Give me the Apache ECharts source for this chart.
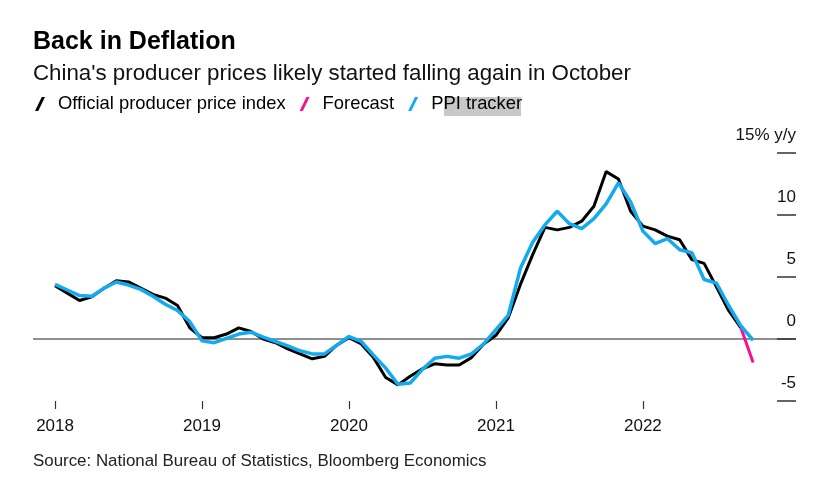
<!DOCTYPE html>
<html>
<head>
<meta charset="utf-8">
<script src="https://cdn.jsdelivr.net/npm/echarts@6/dist/echarts.min.js"></script>
<style>
html,body{margin:0;padding:0;background:#fff;}
#chart{width:837px;height:479px;}
</style>
</head>
<body>
<div id="chart"></div>
<script>
// Months (x categories), Jan 2018 .. Oct 2022
var months = [
 '2018-01','2018-02','2018-03','2018-04','2018-05','2018-06','2018-07','2018-08','2018-09','2018-10','2018-11','2018-12',
 '2019-01','2019-02','2019-03','2019-04','2019-05','2019-06','2019-07','2019-08','2019-09','2019-10','2019-11','2019-12',
 '2020-01','2020-02','2020-03','2020-04','2020-05','2020-06','2020-07','2020-08','2020-09','2020-10','2020-11','2020-12',
 '2021-01','2021-02','2021-03','2021-04','2021-05','2021-06','2021-07','2021-08','2021-09','2021-10','2021-11','2021-12',
 '2022-01','2022-02','2022-03','2022-04','2022-05','2022-06','2022-07','2022-08','2022-09','2022-10'
];
// Official producer price index, % y/y (Jan 2018 .. Sep 2022)
var official = [
 4.3,3.7,3.1,3.4,4.1,4.7,4.6,4.1,3.6,3.3,2.7,0.9,
 0.1,0.1,0.4,0.9,0.6,0.0,-0.3,-0.8,-1.2,-1.6,-1.4,-0.5,
 0.1,-0.4,-1.5,-3.1,-3.7,-3.0,-2.4,-2.0,-2.1,-2.1,-1.5,-0.4,
 0.3,1.7,4.4,6.8,9.0,8.8,9.0,9.5,10.7,13.5,12.9,10.3,
 9.1,8.8,8.3,8.0,6.4,6.1,4.2,2.3,0.9
];
// PPI tracker, % y/y (Jan 2018 .. Oct 2022)
var tracker = [
 4.4,3.95,3.5,3.45,4.1,4.6,4.35,4.0,3.45,2.8,2.3,1.4,
 -0.15,-0.3,0.05,0.4,0.55,0.15,-0.2,-0.55,-0.95,-1.2,-1.2,-0.5,
 0.2,-0.2,-1.3,-2.35,-3.65,-3.55,-2.45,-1.55,-1.4,-1.55,-1.2,-0.4,
 0.75,1.9,5.7,7.8,9.2,10.3,9.3,8.9,9.7,10.9,12.6,11.05,
 8.7,7.7,8.1,7.2,6.95,4.8,4.5,2.7,1.05,-0.1
];
// Forecast segment (Sep 2022 .. Oct 2022)
var forecastMonths = ['2022-09','2022-10'];
var forecast = [0.9,-1.9];
// Axis tick labels
var xTickMonths = ['2018-01','2019-01','2020-01','2021-01','2022-01'];
var xTickLabels = ['2018','2019','2020','2021','2022'];
var yTicks = [-5,0,5,10,15];

function idx(m){ return months.indexOf(m); }
function pairs(ms, vals){ return vals.map(function(v,i){ return [idx(ms[i]), v]; }); }

var chart = echarts.init(document.getElementById('chart'), null, {renderer:'canvas'});
var FONT = 'Liberation Sans, Arial, Helvetica, sans-serif';
var xTickVals = xTickMonths.map(idx);

var option = {
  animation: false,
  backgroundColor: '#fff',
  textStyle: {fontFamily: FONT},
  title: [
    {text: 'Back in Deflation', left: 33, top: 30, padding: 0,
     textStyle: {fontFamily: FONT, fontSize: 25, fontWeight: 'bold', color: '#000'}},
    {text: "China's producer prices likely started falling again in October", left: 33, top: 63, padding: 0,
     textStyle: {fontFamily: FONT, fontSize: 22.3, fontWeight: 'normal', color: '#111'}},
    {text: 'Source: National Bureau of Statistics, Bloomberg Economics', left: 33, top: 453, padding: 0,
     textStyle: {fontFamily: FONT, fontSize: 16.9, fontWeight: 'normal', color: '#222'}}
  ],
  graphic: [
    {type: 'rect', left: 444, top: 97, z: 0, silent: true,
     shape: {width: 77, height: 19}, style: {fill: '#c8c8c8'}}
  ],
  legend: {
    left: 35, top: 95, padding: 0,
    itemWidth: 10, itemHeight: 14, itemGap: 14,
    icon: 'path://M0,14L6.8,0L10,0L3.2,14Z',
    textStyle: {fontFamily: FONT, fontSize: 18.4, color: '#000', padding: [0,0,0,8]},
    data: ['Official producer price index', 'Forecast', 'PPI tracker'],
    selectedMode: false, z: 5
  },
  grid: {left: 33, right: 41, top: 153, bottom: 78, containLabel: false},
  xAxis: {
    type: 'value', min: -1.8, max: 60.5,
    axisLine: {show: false, onZero: false},
    splitLine: {show: false},
    axisTick: {show: true, customValues: xTickVals, length: 8, lineStyle: {color: '#333', width: 1.2}},
    axisLabel: {show: true, customValues: xTickVals, margin: 17, fontSize: 17, color: '#111', fontFamily: FONT,
      formatter: function(v){ var i = xTickVals.indexOf(Math.round(v)); return i >= 0 ? xTickLabels[i] : ''; }}
  },
  yAxis: {
    type: 'value', position: 'right', min: -5, max: 15, interval: 5,
    axisLine: {show: false, onZero: false},
    axisTick: {show: true, inside: true, length: 19, lineStyle: {color: '#333', width: 1.5}},
    splitLine: {show: true, lineStyle: {color: ['rgba(0,0,0,0)','#6a6a6a','rgba(0,0,0,0)','rgba(0,0,0,0)','rgba(0,0,0,0)'], width: 1.5}},
    axisLabel: {show: true, inside: true, margin: 0, fontSize: 17, color: '#111', fontFamily: FONT,
      verticalAlign: 'bottom', padding: [0,0,9,0],
      formatter: function(v){ return v === 15 ? '15% y/y' : String(v); }}
  },
  series: [
    {name: 'Official producer price index', type: 'line', data: pairs(months, official),
     showSymbol: false, symbol: 'none', z: 2,
     lineStyle: {color: '#000', width: 3}, itemStyle: {color: '#000'}},
    {name: 'Forecast', type: 'line', data: pairs(forecastMonths, forecast),
     showSymbol: false, symbol: 'none', z: 3,
     lineStyle: {color: '#f5128c', width: 3}, itemStyle: {color: '#f5128c'}},
    {name: 'PPI tracker', type: 'line', data: pairs(months, tracker),
     showSymbol: false, symbol: 'none', z: 4,
     lineStyle: {color: '#14aaf0', width: 3.5}, itemStyle: {color: '#14aaf0'}}
  ]
};
chart.setOption(option);
</script>
</body>
</html>
